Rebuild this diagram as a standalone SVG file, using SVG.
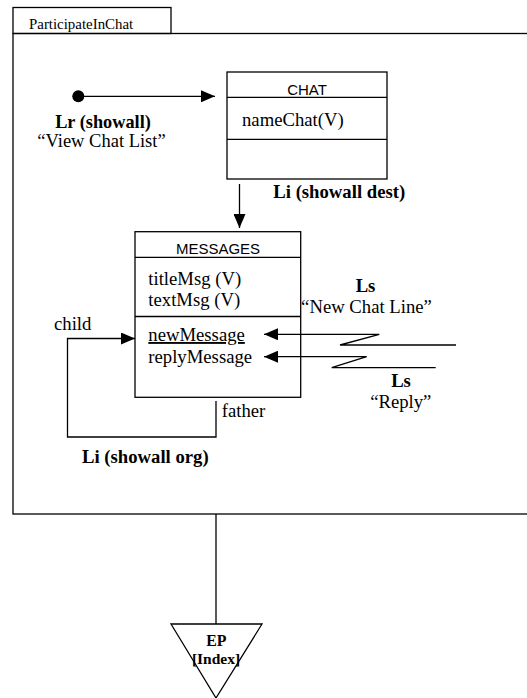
<svg xmlns="http://www.w3.org/2000/svg" width="527" height="698" viewBox="0 0 527 698">
  <style>
    .ln { fill: none; stroke: #000; stroke-width: 1.3; }
    .box { fill: #fff; stroke: #000; stroke-width: 1.3; }
    .serif { font-family: "Liberation Serif", "Times New Roman", serif; font-size: 18.7px; fill: #000; }
    .bold { font-weight: bold; }
    .sans { font-family: "Liberation Sans", Arial, sans-serif; font-size: 15px; fill: #000; }
    .mid { text-anchor: middle; }
  </style>
  <defs>
    <marker id="arrow" markerUnits="userSpaceOnUse" viewBox="0 0 14 12" refX="14" refY="6" markerWidth="14" markerHeight="12" orient="auto">
      <path d="M0,0 L14,6 L0,12 Z" fill="#000"/>
    </marker>
  </defs>

  <rect width="527" height="698" fill="#fff"/>

  <!-- package frame with its name tab -->
  <g id="participate-in-chat">
    <rect class="box" x="13" y="7.5" width="158" height="26"/>
    <text class="serif" x="29" y="29" style="font-size:14.9px">ParticipateInChat</text>
    <rect class="ln" x="13" y="33.5" width="540" height="480.5"/>
  </g>

  <!-- initial node -->
  <g id="start">
    <circle cx="78.3" cy="96.3" r="6" fill="#000"/>
  </g>

  <!-- CHAT class -->
  <g id="chat">
    <rect class="box" x="227" y="72" width="160" height="107"/>
    <line class="ln" x1="227" y1="97.3" x2="387" y2="97.3"/>
    <line class="ln" x1="227" y1="139.3" x2="387" y2="139.3"/>
    <text class="sans mid" x="307" y="95">CHAT</text>
    <text class="serif" x="242" y="125.5">nameChat(V)</text>
  </g>

  <!-- MESSAGES class -->
  <g id="messages">
    <rect class="box" x="135" y="231.7" width="165.7" height="165.6"/>
    <line class="ln" x1="135" y1="257.3" x2="300.7" y2="257.3"/>
    <line class="ln" x1="135" y1="316.5" x2="300.7" y2="316.5"/>
    <text class="sans mid" x="218" y="254">MESSAGES</text>
    <text class="serif" x="148.3" y="285">titleMsg (V)</text>
    <text class="serif" x="148.3" y="306">textMsg (V)</text>
    <text class="serif" x="148.3" y="341" text-decoration="underline">newMessage</text>
    <text class="serif" x="148.3" y="363">replyMessage</text>
  </g>

  <!-- exit point -->
  <g id="ep-index">
    <path class="box" d="M171,624 L262,624 L216,698 Z"/>
    <text class="serif bold mid" x="216.3" y="646" style="font-size:15.8px">EP</text>
    <text class="serif bold mid" x="216" y="664" style="font-size:15.5px">[Index]</text>
  </g>

  <!-- links between the nodes -->
  <g id="connectors">
    <line class="ln" x1="84" y1="96.3" x2="215" y2="96.3" marker-end="url(#arrow)"/>
    <line class="ln" x1="239.5" y1="184" x2="239.5" y2="228" marker-end="url(#arrow)"/>
    <path class="ln" d="M216,401 V437 H67.5 V338.5 H135" marker-end="url(#arrow)"/>
    <path class="ln" d="M456,345 H340 L379.3,334.3 H264" marker-end="url(#arrow)"/>
    <path class="ln" d="M435.7,367.7 H331.7 L366.7,356.7 H264" marker-end="url(#arrow)"/>
    <line class="ln" x1="216" y1="514" x2="216" y2="624"/>

    <text class="serif bold mid" x="103" y="127.5" style="font-size:18.3px">Lr (showall)</text>
    <text class="serif mid" x="101.5" y="147" style="font-size:18.5px">“View Chat List”</text>
    <text class="serif bold" x="273.3" y="198.3">Li (showall dest)</text>
    <text class="serif bold mid" x="365.5" y="291.5">Ls</text>
    <text class="serif mid" x="366.5" y="313.3">“New Chat Line”</text>
    <text class="serif bold mid" x="401" y="386.7">Ls</text>
    <text class="serif mid" x="400.8" y="408">“Reply”</text>
    <text class="serif" x="54" y="330">child</text>
    <text class="serif" x="221.7" y="417.3">father</text>
    <text class="serif bold" x="82" y="463">Li (showall org)</text>
  </g>
</svg>
